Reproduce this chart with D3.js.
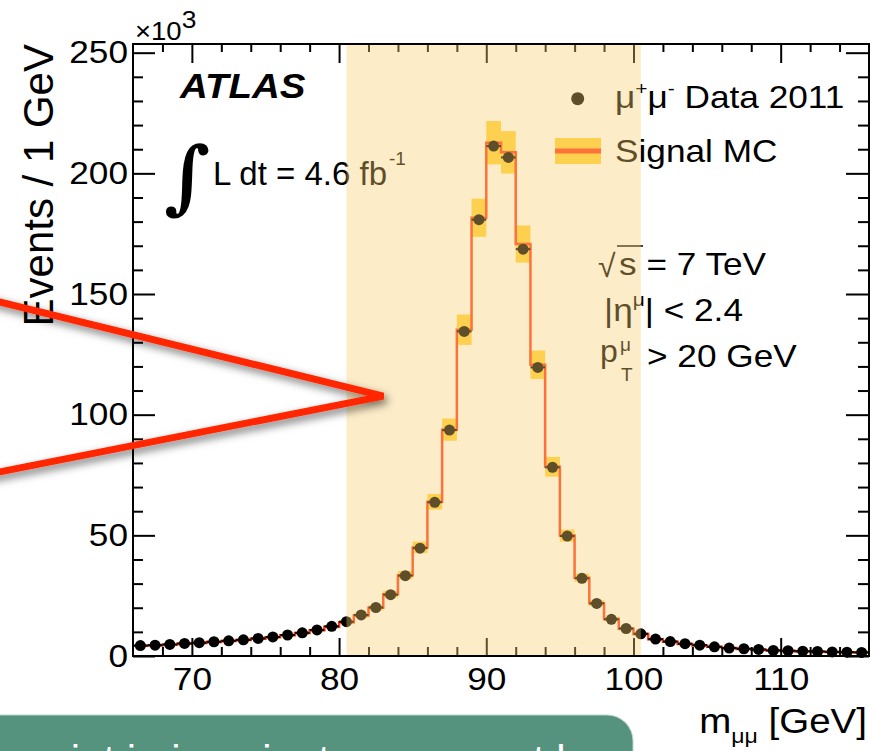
<!DOCTYPE html>
<html>
<head>
<meta charset="utf-8">
<script src="https://cdn.jsdelivr.net/npm/d3@7"></script>
<style>
  body { margin: 0; background: #fff; }
  svg { display: block; }
  text { font-family: "Liberation Sans", Arial, Helvetica, sans-serif; fill: #000; }
</style>
</head>
<body>
<script>
// bins of 1 GeV, low edges
var binLow = [66, 67, 68, 69, 70, 71, 72, 73, 74, 75, 76, 77, 78, 79, 80, 81, 82, 83, 84, 85,
              86, 87, 88, 89, 90, 91, 92, 93, 94, 95, 96, 97, 98, 99, 100, 101, 102, 103, 104, 105,
              106, 107, 108, 109, 110, 111, 112, 113, 114, 115];
var binWidth = 1;

// events per bin, x10^3
var dataK = [4.3, 4.5, 4.8, 5.2, 5.5, 5.9, 6.3, 6.7, 7.3, 7.9, 8.7, 9.6, 10.8, 12.3, 14.2, 17.0, 20.1, 25.4, 33.3, 44.7,
             63.7, 93.6, 134.5, 180.8, 211.3, 206.6, 168.6, 119.6, 78.2, 49.7, 32.2, 21.8, 15.2, 11.4, 9.2, 7.0, 6.0, 5.1, 4.5, 3.8,
             3.3, 3.0, 2.7, 2.3, 2.2, 2.0, 1.9, 1.7, 1.6, 1.5];
var mcK = [4.2, 4.4, 4.7, 5.1, 5.4, 5.8, 6.2, 6.6, 7.2, 7.8, 8.6, 9.5, 10.7, 12.1, 14.0, 16.8, 20.0, 25.6, 33.5, 45.0,
           63.9, 93.8, 135.2, 181.6, 212.7, 208.7, 170.7, 120.7, 78.4, 49.9, 32.4, 21.9, 15.3, 11.3, 9.1, 6.9, 5.9, 5.0, 4.4, 3.8,
           3.3, 2.9, 2.6, 2.3, 2.1, 1.9, 1.8, 1.7, 1.6, 1.5];
var mcErrK = [0.5, 0.5, 0.5, 0.5, 0.5, 0.5, 0.5, 0.5, 0.5, 0.55, 0.6, 0.6, 0.65, 0.7, 0.8, 0.9, 1.1, 1.4, 1.7, 2.4,
              3.2, 4.6, 6.3, 7.9, 9.0, 8.8, 7.7, 5.9, 4.1, 2.5, 1.7, 1.2, 0.9, 0.7, 0.6, 0.5, 0.5, 0.5, 0.5, 0.5,
              0.5, 0.5, 0.5, 0.5, 0.5, 0.5, 0.5, 0.5, 0.5, 0.5];

var xTicks = [70, 80, 90, 100, 110];
var xMinor = [68, 72, 74, 76, 78, 82, 84, 86, 88, 92, 94, 96, 98, 102, 104, 106, 108, 112, 114];
var yTicks = [0, 50, 100, 150, 200, 250];
var yMinor = [10, 20, 30, 40, 60, 70, 80, 90, 110, 120, 130, 140, 160, 170, 180, 190, 210, 220, 230, 240];
var massWindow = [80.5, 100.5];
// callout arrow, in plot units (GeV, x10^3 events)
var callout = [[54.9, 149.8], [83.0, 107.7], [54.9, 73.8]];

var W = 876, H = 751;
var STRETCH = 1.1;   // the slide is a bit wider than tall

var x = d3.scaleLinear().domain([66, 116]).range([133, 869]);
var y = d3.scaleLinear().domain([0, 253.6]).range([656, 44]);

var svg = d3.select('body').append('svg')
    .attr('width', W)
    .attr('height', H);

var defs = svg.append('defs');
var shadow = defs.append('filter').attr('id', 'shadow')
    .attr('x', '-20%').attr('y', '-20%').attr('width', '140%').attr('height', '140%');
shadow.append('feDropShadow')
    .attr('dx', 3).attr('dy', 4).attr('stdDeviation', 4)
    .attr('flood-color', '#000').attr('flood-opacity', 0.55);

function widen(sel) {
  sel.each(function() {
    var n = this.getComputedTextLength();
    this.setAttribute('textLength', n * STRETCH);
    this.setAttribute('lengthAdjust', 'spacingAndGlyphs');
  });
}

var plot = svg.append('g');

// MC uncertainty band
plot.selectAll('rect.band')
    .data(binLow)
    .enter()
    .append('rect')
    .attr('class', 'band')
    .attr('x', function(d) { return x(d); })
    .attr('width', function(d) { return x(d + binWidth) - x(d); })
    .attr('y', function(d, i) { return y(mcK[i] + mcErrK[i]); })
    .attr('height', function(d, i) { return y(mcK[i] - mcErrK[i]) - y(mcK[i] + mcErrK[i]); })
    .attr('fill', '#ffd23d');

// MC histogram
var stepPts = binLow.map(function(d, i) { return [d, mcK[i]]; });
stepPts.push([binLow[binLow.length - 1] + binWidth, mcK[mcK.length - 1]]);
plot.append('path')
    .attr('d', d3.line()
        .x(function(d) { return x(d[0]); })
        .y(function(d) { return y(d[1]); })
        .curve(d3.curveStepAfter)(stepPts))
    .attr('fill', 'none')
    .attr('stroke', '#ff3b1a')
    .attr('stroke-width', 2.5);

// data: bin-width bars + markers
plot.selectAll('line.xerr')
    .data(binLow)
    .enter()
    .append('line')
    .attr('class', 'xerr')
    .attr('x1', function(d) { return x(d); })
    .attr('x2', function(d) { return x(d + binWidth); })
    .attr('y1', function(d, i) { return y(dataK[i]); })
    .attr('y2', function(d, i) { return y(dataK[i]); })
    .attr('stroke', '#000')
    .attr('stroke-width', 2);

plot.selectAll('circle.pt')
    .data(binLow)
    .enter()
    .append('circle')
    .attr('class', 'pt')
    .attr('cx', function(d) { return x(d + binWidth / 2); })
    .attr('cy', function(d, i) { return y(dataK[i]); })
    .attr('r', 5.5)
    .attr('fill', '#000');

// axes ticks (inward, ROOT style)
function noDomain(g) { g.select('.domain').remove(); }

var axB = svg.append('g').attr('transform', 'translate(0,' + y(0) + ')')
    .call(d3.axisBottom(x).tickValues(xTicks).tickSize(-18).tickPadding(11).tickFormat(d3.format('d')));
axB.call(noDomain);
axB.selectAll('text').attr('font-size', 32).attr('fill', '#000').call(widen);

svg.append('g').attr('transform', 'translate(0,' + y(0) + ')')
    .call(d3.axisBottom(x).tickValues(xMinor).tickSize(-9).tickFormat(''))
    .call(noDomain);

svg.append('g').attr('transform', 'translate(0,' + y.range()[1] + ')')
    .call(d3.axisTop(x).tickValues(xTicks).tickSize(-19).tickFormat(''))
    .call(noDomain);
svg.append('g').attr('transform', 'translate(0,' + y.range()[1] + ')')
    .call(d3.axisTop(x).tickValues(xMinor).tickSize(-8).tickFormat(''))
    .call(noDomain);

var axL = svg.append('g').attr('transform', 'translate(' + x(66) + ',0)')
    .call(d3.axisLeft(y).tickValues(yTicks).tickSize(-22).tickPadding(5).tickFormat(d3.format('d')));
axL.call(noDomain);
axL.selectAll('text').attr('font-size', 32).attr('fill', '#000').call(widen);

svg.append('g').attr('transform', 'translate(' + x(66) + ',0)')
    .call(d3.axisLeft(y).tickValues(yMinor).tickSize(-10).tickFormat(''))
    .call(noDomain);
svg.append('g').attr('transform', 'translate(' + x(116) + ',0)')
    .call(d3.axisRight(y).tickValues(yTicks).tickSize(-23).tickFormat(''))
    .call(noDomain);
svg.append('g').attr('transform', 'translate(' + x(116) + ',0)')
    .call(d3.axisRight(y).tickValues(yMinor).tickSize(-11).tickFormat(''))
    .call(noDomain);

svg.selectAll('.tick line').attr('stroke', '#000').attr('stroke-width', 2);

// labels inside the frame
var txt = svg.append('g');

txt.append('text').attr('x', 180).attr('y', 98)
    .attr('font-size', 35).attr('font-weight', 'bold').attr('font-style', 'italic')
    .text('ATLAS').call(widen);

txt.append('text').attr('x', 164).attr('y', 204)
    .attr('font-size', 80).attr('font-weight', 'bold')
    .style('font-family', '"DejaVu Serif", serif')
    .text('\u222B');
var lumi = txt.append('text').attr('x', 213).attr('y', 185).attr('font-size', 33);
lumi.append('tspan').text('L dt = 4.6 fb');
lumi.append('tspan').attr('font-size', 19).attr('dx', 2).attr('dy', -20).text('-1');

// legend
txt.append('circle').attr('cx', 577.7).attr('cy', 98.7).attr('r', 6.5).attr('fill', '#000');
var l1 = txt.append('text').attr('x', 615).attr('y', 108).attr('font-size', 32);
l1.append('tspan').text('\u03BC');
l1.append('tspan').attr('font-size', 19).attr('dy', -13).text('+');
l1.append('tspan').attr('dy', 13).text('\u03BC');
l1.append('tspan').attr('font-size', 19).attr('dy', -13).text('-');
l1.append('tspan').attr('dy', 13).text(' Data 2011');
l1.call(widen);

txt.append('rect').attr('x', 555).attr('y', 138).attr('width', 46).attr('height', 26).attr('fill', '#ffd23d');
txt.append('line').attr('x1', 555).attr('x2', 601).attr('y1', 151).attr('y2', 151)
    .attr('stroke', '#ff3b1a').attr('stroke-width', 5);
txt.append('text').attr('x', 615).attr('y', 162).attr('font-size', 32).text('Signal MC').call(widen);

// cuts
txt.append('text').attr('x', 598).attr('y', 277).attr('font-size', 32).text('\u221A');
txt.append('line').attr('x1', 617).attr('x2', 643).attr('y1', 246).attr('y2', 246)
    .attr('stroke', '#000').attr('stroke-width', 1.5);
txt.append('text').attr('x', 619).attr('y', 275).attr('font-size', 32).text('s = 7 TeV').call(widen);

var c2 = txt.append('text').attr('x', 604).attr('y', 321).attr('font-size', 32);
c2.append('tspan').text('|\u03B7');
c2.append('tspan').attr('font-size', 19).attr('dy', -15).text('\u03BC');
c2.append('tspan').attr('dy', 15).text('| < 2.4');
c2.call(widen);

txt.append('text').attr('x', 600).attr('y', 362).attr('font-size', 32).text('p');
txt.append('text').attr('x', 620).attr('y', 351).attr('font-size', 19).text('\u03BC');
txt.append('text').attr('x', 621).attr('y', 381).attr('font-size', 19).text('T');
txt.append('text').attr('x', 647).attr('y', 367).attr('font-size', 32).text('> 20 GeV').call(widen);

// mass window shading, lies over the marks and text
svg.append('rect')
    .attr('x', x(massWindow[0]))
    .attr('width', x(massWindow[1]) - x(massWindow[0]))
    .attr('y', y.range()[1] + 1)
    .attr('height', y.range()[0] - y.range()[1] - 2)
    .attr('fill', 'rgb(250,205,110)')
    .attr('opacity', 0.38);

// frame
svg.append('rect')
    .attr('x', x(66)).attr('y', y.range()[1])
    .attr('width', x(116) - x(66)).attr('height', y.range()[0] - y.range()[1])
    .attr('fill', 'none').attr('stroke', '#000').attr('stroke-width', 2);

// axis titles
var xt = svg.append('text').attr('x', 867).attr('y', 733).attr('text-anchor', 'end').attr('font-size', 35);
xt.append('tspan').text('m');
xt.append('tspan').attr('font-size', 21).attr('dy', 10).text('\u03BC\u03BC');
xt.append('tspan').attr('dy', -10).text(' [GeV]');
xt.call(widen);

svg.append('text')
    .attr('transform', 'translate(53,44) rotate(-90)')
    .attr('text-anchor', 'end')
    .attr('font-size', 42)
    .text('Events / 1 GeV');

var ex = svg.append('text').attr('x', 135).attr('y', 40).attr('font-size', 25);
ex.append('tspan').text('\u00D710');
ex.append('tspan').attr('font-size', 24).attr('dy', -12).text('3');
ex.call(widen);

// slide callout
svg.append('path')
    .attr('d', d3.line()
        .x(function(d) { return x(d[0]); })
        .y(function(d) { return y(d[1]); })(callout))
    .attr('fill', 'none')
    .attr('stroke', '#ff2600')
    .attr('stroke-width', 7)
    .attr('stroke-linejoin', 'bevel')
    .attr('filter', 'url(#shadow)');

// slide text box below
svg.append('rect')
    .attr('x', -40).attr('y', 715).attr('width', 673).attr('height', 120).attr('rx', 26)
    .attr('fill', '#55937f')
    .attr('stroke', '#b9d2c9').attr('stroke-width', 1);
svg.append('text')
    .attr('x', 603).attr('y', 775)
    .attr('text-anchor', 'end')
    .attr('font-size', 42)
    .style('fill', '#fff')
    .text('one point in invariant mass must be');
</script>
</body>
</html>
